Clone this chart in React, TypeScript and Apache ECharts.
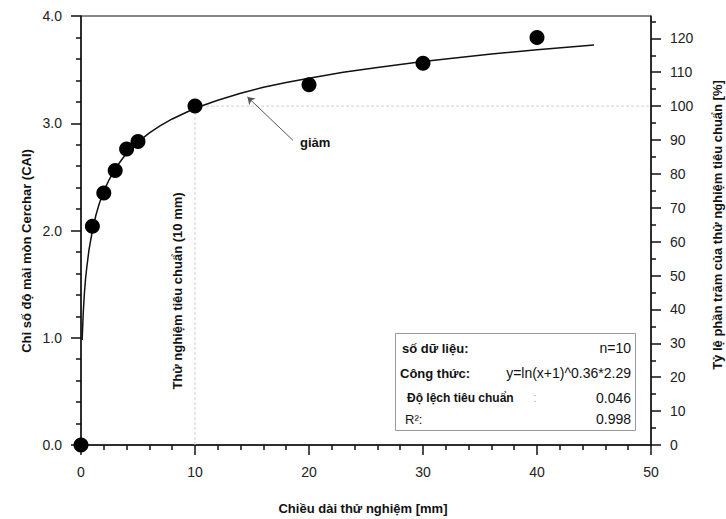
import React, { useEffect, useRef } from "react";
import * as echarts from "echarts";

// Measured points: test length (mm) vs Cerchar abrasivity index
const lengthsMm = [0, 1, 2, 3, 4, 5, 10, 20, 30, 40];
const caiValues = [0, 2.04, 2.35, 2.56, 2.76, 2.83, 3.16, 3.36, 3.56, 3.8];

// Fitted curve
const fitX = [0.1, 0.2, 0.3, 0.4, 0.5, 0.7, 1, 1.3, 1.6, 2, 2.5, 3, 3.5, 4, 5, 6, 7, 8, 10, 12, 14, 16, 18, 20, 23, 26, 30, 33, 36, 40, 45];
const fitY = [0.98, 1.24, 1.42, 1.55, 1.65, 1.82, 2.0, 2.14, 2.25, 2.37, 2.48, 2.575, 2.65, 2.72, 2.825, 2.91, 2.98, 3.04, 3.14, 3.215, 3.28, 3.335, 3.38, 3.42, 3.475, 3.52, 3.575, 3.61, 3.645, 3.685, 3.73];

// Standard test reference
const standardLength = 10;
const standardCai = 3.16;

// Axis ticks
const xTicks = [0, 10, 20, 30, 40, 50];
const caiTicks = [0, 1, 2, 3, 4];
const percentMajor = [0, 10, 20, 30, 40, 50, 60, 70, 80, 90, 100, 110, 120];
const percentMinor = [5, 15, 25, 35, 45, 55, 65, 75, 85, 95, 105, 115, 125];

// Statistics box
const statLabels = ["số dữ liệu:", "Công thức:", "Độ lệch tiêu chuẩn", "R²:"];
const statValues = ["n=10", "y=ln(x+1)^0.36*2.29", "0.046", "0.998"];

const FONT = "'Liberation Sans', Arial, sans-serif";

export default function App() {
  const ref = useRef<HTMLDivElement>(null);

  useEffect(() => {
    if (!ref.current) return;
    const chart = echarts.init(ref.current, undefined, { renderer: "svg" });
    const percentMax = (caiTicks[caiTicks.length - 1] / standardCai) * 100;
    const axisLabelStyle = { fontFamily: FONT, fontSize: 14, color: "#222" };

    const txt = (
      text: string,
      x: number,
      y: number,
      opts: { bold?: boolean; size?: number; align?: string; rot?: number; color?: string } = {}
    ) => ({
      type: "text",
      x,
      y,
      rotation: opts.rot || 0,
      z: 100,
      style: {
        text,
        font: `${opts.bold ? "bold " : ""}${opts.size || 13}px ${FONT}`,
        fill: opts.color || "#111",
        align: opts.align || "center",
        verticalAlign: "middle",
        textAlign: opts.align || "center",
        textVerticalAlign: "middle",
      },
    });

    const rowY = [348, 373, 398, 419];
    const labelX = [402, 400, 407, 405];

    chart.setOption({
      animation: false,
      grid: {
        left: 81,
        right: 75,
        top: 16,
        bottom: 74,
        show: true,
        borderColor: "#111",
        borderWidth: 1,
      },
      xAxis: {
        type: "value",
        min: xTicks[0],
        max: xTicks[xTicks.length - 1],
        interval: 10,
        axisLine: { show: true, lineStyle: { color: "#111", width: 1.5 } },
        axisTick: { show: true, length: 10, lineStyle: { color: "#111", width: 1.5 } },
        minorTick: { show: true, splitNumber: 5, length: 5, lineStyle: { color: "#111", width: 1.5 } },
        axisLabel: { ...axisLabelStyle, margin: 20 },
        splitLine: { show: false },
      },
      yAxis: [
        {
          type: "value",
          min: caiTicks[0],
          max: caiTicks[caiTicks.length - 1],
          interval: 1,
          axisLine: { show: true, lineStyle: { color: "#111", width: 1.5 } },
          axisTick: { show: true, length: 10, lineStyle: { color: "#111", width: 1.5 } },
          minorTick: { show: true, splitNumber: 5, length: 5, lineStyle: { color: "#111", width: 1.5 } },
          axisLabel: { ...axisLabelStyle, margin: 19, formatter: (v: number) => v.toFixed(1) },
          splitLine: { show: false },
        },
        {
          type: "value",
          position: "right",
          min: 0,
          max: percentMax,
          axisLine: { show: true, lineStyle: { color: "#111", width: 1.5 } },
          axisTick: { show: true, length: 10, customValues: percentMajor, lineStyle: { color: "#111", width: 1.5 } },
          axisLabel: { ...axisLabelStyle, margin: 19, customValues: percentMajor },
          splitLine: { show: false },
        },
        {
          type: "value",
          position: "right",
          min: 0,
          max: percentMax,
          axisLine: { show: false },
          axisTick: { show: true, length: 5, customValues: percentMinor, lineStyle: { color: "#111", width: 1.5 } },
          axisLabel: { show: false },
          splitLine: { show: false },
        },
      ],
      series: [
        {
          type: "line",
          data: [
            [standardLength, 0],
            [standardLength, standardCai],
            [xTicks[xTicks.length - 1], standardCai],
          ],
          symbol: "none",
          lineStyle: { color: "#cfcfcf", width: 1, type: [3, 2] },
          z: 1,
          silent: true,
          markLine: {
            silent: true,
            symbol: ["none", "arrow"],
            symbolSize: 7,
            label: { show: false },
            lineStyle: { color: "#555", width: 1, type: "solid" },
            data: [[{ coord: [18.6, 2.84] }, { coord: [14.6, 3.245] }]],
          },
        },
        {
          type: "line",
          data: fitX.map((x, i) => [x, fitY[i]]),
          symbol: "none",
          smooth: false,
          lineStyle: { color: "#111", width: 1.5 },
          z: 2,
        },
        {
          type: "scatter",
          data: lengthsMm.map((x, i) => [x, caiValues[i]]),
          symbol: "circle",
          symbolSize: 15,
          itemStyle: { color: "#000", opacity: 1 },
          clip: false,
          z: 3,
        },
      ],
      graphic: [
        txt("Chỉ số độ mài mòn Cerchar (CAI)", 26, 251, { bold: true, rot: Math.PI / 2 }),
        txt("Tỷ lệ phần trăm của thử nghiệm tiêu chuẩn [%]", 717, 225, { bold: true, rot: Math.PI / 2 }),
        txt("Chiều dài thử nghiệm [mm]", 363, 508, { bold: true }),
        txt("Thử nghiệm tiêu chuẩn (10 mm)", 177, 291, { bold: true, rot: Math.PI / 2 }),
        txt("giảm", 300, 142, { bold: true, align: "left" }),
        {
          type: "rect",
          z: 90,
          shape: { x: 395.5, y: 333.5, width: 240, height: 97 },
          style: { fill: "#fff", stroke: "#999", lineWidth: 1 },
        },
        txt(statLabels[0], labelX[0], rowY[0], { bold: true, size: 13, align: "left" }),
        txt(statLabels[1], labelX[1], rowY[1], { bold: true, size: 13, align: "left" }),
        txt(statLabels[2], labelX[2], rowY[2], { bold: true, size: 12, align: "left" }),
        txt(statLabels[3], labelX[3], rowY[3], { size: 13, align: "left" }),
        txt(":", 535, rowY[2], { size: 12, color: "#aaa" }),
        txt(statValues[0], 631, rowY[0], { size: 14, align: "right" }),
        txt(statValues[1], 631, rowY[1], { size: 14, align: "right" }),
        txt(statValues[2], 631, rowY[2], { size: 14, align: "right" }),
        txt(statValues[3], 631, rowY[3], { size: 14, align: "right" }),
      ],
    });

    return () => chart.dispose();
  }, []);

  return (
    <div
      ref={ref}
      style={{ position: "fixed", left: 0, top: 0, width: 726, height: 519, background: "#fff" }}
    />
  );
}
